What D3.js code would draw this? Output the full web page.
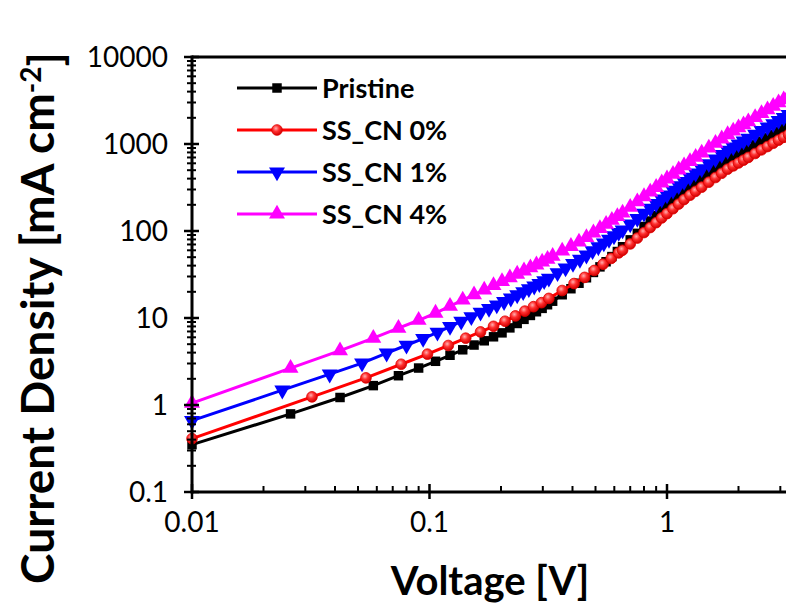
<!DOCTYPE html>
<html><head><meta charset="utf-8">
<script src="https://cdn.jsdelivr.net/npm/d3@7"></script>
<style>html,body{margin:0;padding:0;background:#fff;} svg{display:block;}</style>
</head><body><svg id="chart" width="786" height="603"></svg>
<script>
// ---- data ----
const seriesNames = ["Pristine", "SS_CN 0%", "SS_CN 1%", "SS_CN 4%"];
const seriesColors = ["#000000", "#ff0000", "#0000ff", "#ff00ff"];
const seriesShapes = ["square", "circle", "triangleDown", "triangleUp"];

const pristineV = [0.010,0.026,0.042,0.058,0.074,0.090,0.106,0.122,0.138,0.154,0.170,0.186,0.202,0.218,0.234,0.250,0.266,0.282,0.298,0.314,0.330,0.362,0.394,0.426,0.458,0.490,0.522,0.554,0.586,0.618,0.65,0.70,0.75,0.80,0.85,0.90,0.95,1.00,1.06,1.12,1.18,1.25,1.32,1.40,1.50,1.60,1.70,1.80,1.90,2.00,2.10,2.20,2.35,2.50,2.65,2.80,2.95,3.10,3.25];
const pristineJ = [0.35,0.79,1.22,1.67,2.17,2.66,3.18,3.73,4.31,4.89,5.47,6.08,6.75,7.7,8.65,9.65,10.7,11.8,12.9,14.2,15.6,18.5,21.7,25.1,29.0,33.4,38.7,44.3,50.8,58.1,65.9,79.1,94.0,112.7,130.3,150,171.8,195,223,255,290,324,361,402,458,519,581,647,705,762,822,883,979,1079,1178,1285,1393,1503,1618];

const cn0V = [0.010,0.032,0.054,0.076,0.098,0.120,0.142,0.164,0.186,0.208,0.230,0.252,0.274,0.296,0.318,0.362,0.406,0.450,0.494,0.538,0.582,0.626,0.65,0.70,0.75,0.80,0.85,0.90,0.95,1.00,1.06,1.12,1.18,1.25,1.32,1.40,1.50,1.60,1.70,1.80,1.90,2.00,2.10,2.20,2.35,2.50,2.65,2.80,2.95,3.10,3.25];
const cn0J = [0.41,1.24,2.05,2.94,3.84,4.83,5.86,6.92,8.02,9.18,10.57,12.0,13.5,15.0,16.8,20.7,24.9,29.3,35.2,41.6,48.4,56.0,60.1,71.0,83.0,95.9,109.6,124.7,141.3,158.5,180.3,204,230,258,286,319,364,412,461,514,560,605,653,701,778,857,935,1021,1107,1194,1285];

const cn1V = [0.010,0.024,0.038,0.052,0.066,0.080,0.094,0.108,0.122,0.136,0.150,0.164,0.178,0.192,0.206,0.220,0.234,0.248,0.262,0.276,0.290,0.304,0.318,0.346,0.374,0.402,0.430,0.458,0.486,0.514,0.542,0.570,0.598,0.626,0.65,0.70,0.75,0.80,0.85,0.90,0.95,1.00,1.06,1.12,1.18,1.25,1.32,1.40,1.50,1.60,1.70,1.80,1.90,2.00,2.10,2.20,2.35,2.50,2.65,2.80,2.95,3.10,3.25];
const cn1J = [0.66,1.48,2.26,3.03,3.94,4.86,5.81,6.84,7.98,9.16,10.3,11.6,12.8,14.1,15.4,16.9,18.4,20.0,21.6,23.2,24.8,26.7,28.6,33.0,37.5,42.3,47.1,52.7,59.2,65.6,72.6,80.0,87.7,95.7,102.6,120,139,160,182,206,232,259,293,330,370,415,462,518,592,671,754,843,920,1000,1079,1161,1294,1429,1567,1710,1862,2014,2173];

const cn4V = [0.010,0.026,0.042,0.058,0.074,0.090,0.106,0.122,0.138,0.154,0.170,0.186,0.202,0.218,0.234,0.250,0.266,0.282,0.298,0.314,0.330,0.362,0.394,0.426,0.458,0.490,0.522,0.554,0.586,0.618,0.65,0.70,0.75,0.80,0.85,0.90,0.95,1.00,1.06,1.12,1.18,1.25,1.32,1.40,1.50,1.60,1.70,1.80,1.90,2.00,2.10,2.20,2.35,2.50,2.65,2.80,2.95,3.10,3.25];
const cn4J = [1.05,2.65,4.22,5.86,7.64,9.42,11.4,13.7,16.1,18.5,21.0,23.7,26.3,29.1,32.0,34.9,37.9,40.9,44.0,47.5,51.3,58.9,66.7,75.0,84.3,95.3,107,120,133,147,161,188,217,249,282,318,358,398,449,505,564,632,705,789,902,1023,1148,1285,1413,1538,1671,1807,2023,2249,2483,2723,2985,3236,3516];

const xTickValues = [0.01, 0.1, 1];
const xTickLabels = ["0.01", "0.1", "1"];
const yTickValues = [0.1, 1, 10, 100, 1000, 10000];
const yTickLabels = ["0.1", "1", "10", "100", "1000", "10000"];
const xTitle = "Voltage [V]";

// ---- build ----
const seriesV = [pristineV, cn0V, cn1V, cn4V];
const seriesJ = [pristineJ, cn0J, cn1J, cn4J];
const series = seriesNames.map((name, i) => ({
  name, color: seriesColors[i], shape: seriesShapes[i],
  pts: seriesV[i].map((v, k) => ({v, j: seriesJ[i][k]}))
}));

const svg = d3.select("#chart");
const FONT = "Lato, 'DejaVu Sans', sans-serif";
const x = d3.scaleLog().domain([0.01, 10]).range([192, 904.5]);
const y = d3.scaleLog().domain([0.1, 10000]).range([492, 57]);

const defs = svg.append("defs");
const grad = defs.append("radialGradient").attr("id", "ball")
  .attr("cx", "40%").attr("cy", "35%").attr("r", "65%");
grad.append("stop").attr("offset", "0%").attr("stop-color", "#ffb0b0");
grad.append("stop").attr("offset", "45%").attr("stop-color", "#ff3030");
grad.append("stop").attr("offset", "100%").attr("stop-color", "#d00000");

function markerPath(shape) {
  if (shape === "square") return d3.symbol(d3.symbolSquare, 90)();
  if (shape === "circle") return d3.symbol(d3.symbolCircle, 90)();
  return d3.symbol(d3.symbolTriangle, 110)();
}
function drawMarker(g, s, cx, cy) {
  const p = g.append("path").attr("d", markerPath(s.shape))
    .attr("transform", `translate(${cx},${cy})` + (s.shape === "triangleDown" ? " rotate(180)" : ""));
  if (s.shape === "circle") p.attr("fill", "url(#ball)").attr("stroke", "#e00000").attr("stroke-width", 0.8);
  else p.attr("fill", s.color);
}

// data
const line = d3.line().x(d => x(d.v)).y(d => y(d.j));
const plot = svg.append("g");
series.forEach(s => {
  plot.append("path").datum(s.pts).attr("d", line)
    .attr("fill", "none").attr("stroke", s.color).attr("stroke-width", 3);
  const mg = plot.append("g");
  s.pts.forEach(d => drawMarker(mg, s, x(d.v), y(d.j)));
});

// frame
const ax = svg.append("g").attr("stroke", "#000").attr("fill", "none");
ax.append("line").attr("x1", x(0.01)).attr("x2", x(10)).attr("y1", y(0.1)).attr("y2", y(0.1)).attr("stroke-width", 3);
ax.append("line").attr("x1", x(0.01)).attr("x2", x(10)).attr("y1", y(10000)).attr("y2", y(10000)).attr("stroke-width", 3);
ax.append("line").attr("x1", x(0.01)).attr("x2", x(0.01)).attr("y1", y(0.1) + 1.5).attr("y2", y(10000) - 1.5).attr("stroke-width", 3);

// y ticks
for (let e = -1; e <= 4; e++) {
  const base = Math.pow(10, e);
  ax.append("line").attr("x1", x(0.01) - 8).attr("x2", x(0.01) + 7)
    .attr("y1", y(base)).attr("y2", y(base)).attr("stroke-width", 2.5);
  if (e < 4) for (let m = 2; m <= 9; m++) {
    ax.append("line").attr("x1", x(0.01) - 5).attr("x2", x(0.01) + 4)
      .attr("y1", y(base * m)).attr("y2", y(base * m)).attr("stroke-width", 2);
  }
}
// x ticks
for (let e = -2; e <= 0; e++) {
  const base = Math.pow(10, e);
  ax.append("line").attr("x1", x(base)).attr("x2", x(base))
    .attr("y1", y(0.1) - 8).attr("y2", y(0.1) + 7).attr("stroke-width", 2.5);
  for (let m = 2; m <= 9; m++) {
    ax.append("line").attr("x1", x(base * m)).attr("x2", x(base * m))
      .attr("y1", y(0.1) - 6).attr("y2", y(0.1)).attr("stroke-width", 2);
  }
}

// tick labels
svg.append("g").selectAll("text").data(yTickValues).join("text")
  .attr("x", 168).attr("y", d => y(d)).attr("dy", "0.36em")
  .attr("text-anchor", "end").attr("font-family", FONT).attr("font-size", 28)
  .attr("fill", "#000").text((d, i) => yTickLabels[i]);
svg.append("g").selectAll("text").data(xTickValues).join("text")
  .attr("x", d => x(d)).attr("y", 532)
  .attr("text-anchor", "middle").attr("font-family", FONT).attr("font-size", 28)
  .attr("fill", "#000").text((d, i) => xTickLabels[i]);

// axis titles
svg.append("text").attr("x", 490).attr("y", 595).attr("text-anchor", "middle")
  .attr("font-family", FONT).attr("font-weight", "bold").attr("font-size", 40)
  .attr("fill", "#000").text(xTitle);
const yt = svg.append("text").attr("transform", "translate(54,318) rotate(-90)")
  .attr("text-anchor", "middle").attr("font-family", FONT).attr("font-weight", "bold")
  .attr("font-size", 46).attr("fill", "#000");
yt.append("tspan").text("Current Density [mA cm");
yt.append("tspan").attr("dy", "-0.45em").attr("font-size", 28).text("-2");
yt.append("tspan").attr("dy", "0.45em").text("]");

// legend
const lg = svg.append("g");
series.forEach((s, i) => {
  const ly = 88 + i * 42;
  lg.append("line").attr("x1", 237).attr("x2", 317).attr("y1", ly).attr("y2", ly)
    .attr("stroke", s.color).attr("stroke-width", 3);
  drawMarker(lg, s, 277, ly);
  lg.append("text").attr("x", 322).attr("y", ly).attr("dy", "0.36em")
    .attr("font-family", FONT).attr("font-weight", "bold").attr("font-size", 27)
    .attr("fill", "#000").text(s.name);
});
</script></body></html>
